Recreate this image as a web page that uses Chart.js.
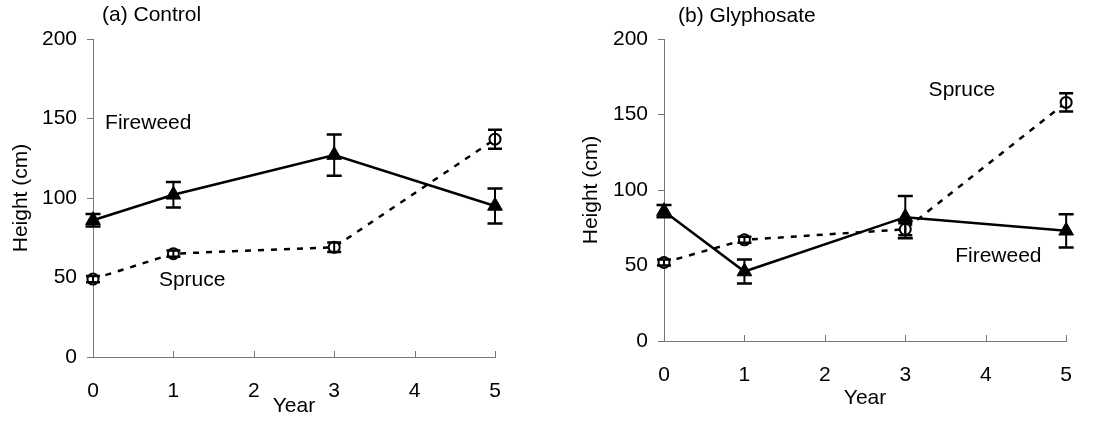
<!DOCTYPE html>
<html>
<head>
<meta charset="utf-8">
<script src="https://cdn.jsdelivr.net/npm/chart.js@4.4.1/dist/chart.umd.min.js"></script>
<style>
  html, body { margin: 0; padding: 0; background: #fff; }
  #wrap { position: relative; width: 1094px; height: 423px; }
  canvas { position: absolute; top: 0; }
  #chartA { left: 0; }
  #chartB { left: 547px; }
</style>
</head>
<body>
<div id="wrap">
  <canvas id="chartA" width="547" height="423"></canvas>
  <canvas id="chartB" width="547" height="423"></canvas>
</div>
<script>
// sampling years and axis ticks
const years = [0, 1, 3, 5];
const xTicks = [0, 1, 2, 3, 4, 5];
const yTicks = [0, 50, 100, 150, 200];

// (a) Control
const fireweedControl = [86, 102, 127, 95];
const fireweedControlErr = [4, 8, 13, 11];
const spruceControl = [49, 65, 69, 137];
const spruceControlErr = [2, 2, 3, 6];

// (b) Glyphosate
const fireweedGly = [86, 46, 82, 73];
const fireweedGlyErr = [4, 8, 14, 11];
const spruceGly = [52, 67, 74, 158];
const spruceGlyErr = [2, 2, 4, 6];

const FONT = '"Liberation Sans", Arial, Helvetica, sans-serif';
const AXIS_COLOR = '#777';

// Draws error bars, inward x ticks and the in-plot text labels
const panelPlugin = {
    id: 'panelPlugin',
    afterDatasetsDraw(chart) {
        const ctx = chart.ctx;
        const xs = chart.scales.x;
        const ys = chart.scales.y;
        ctx.save();
        ctx.strokeStyle = '#000';
        chart.data.datasets.forEach(ds => {
            ds.data.forEach((p, i) => {
                const e = ds.errors[i];
                const x = xs.getPixelForValue(p.x);
                const yTop = ys.getPixelForValue(p.y + e);
                const yBot = ys.getPixelForValue(p.y - e);
                ctx.lineWidth = 2;
                ctx.beginPath();
                ctx.moveTo(x, yTop);
                ctx.lineTo(x, yBot);
                ctx.stroke();
                ctx.lineWidth = 2.5;
                ctx.beginPath();
                ctx.moveTo(x - ds.capHalf, yTop);
                ctx.lineTo(x + ds.capHalf, yTop);
                ctx.moveTo(x - ds.capHalf, yBot);
                ctx.lineTo(x + ds.capHalf, yBot);
                ctx.stroke();
            });
        });
        ctx.restore();
    },
    afterDraw(chart, args, opts) {
        const ctx = chart.ctx;
        const xs = chart.scales.x;
        const ys = chart.scales.y;
        const area = chart.chartArea;
        ctx.save();
        // tick marks pointing up into the plot
        ctx.strokeStyle = AXIS_COLOR;
        ctx.lineWidth = 1;
        xs.ticks.forEach(t => {
            const x = Math.round(xs.getPixelForValue(t.value)) + 0.5;
            ctx.beginPath();
            ctx.moveTo(x, area.bottom);
            ctx.lineTo(x, area.bottom - 6);
            ctx.stroke();
        });
        // labels
        ctx.fillStyle = '#000';
        ctx.font = '21px ' + FONT;
        ctx.textAlign = 'left';
        ctx.textBaseline = 'middle';
        opts.labels.forEach(l => {
            ctx.fillText(l.text, xs.getPixelForValue(l.x), ys.getPixelForValue(l.y));
        });
        ctx.fillText(opts.title, area.left + opts.titleDx, opts.titleY);
        ctx.restore();
    }
};

function makeChart(id, cfg) {
    return new Chart(document.getElementById(id), {
        type: 'line',
        data: {
            datasets: [
                {
                    label: 'Fireweed',
                    data: years.map((yr, i) => ({ x: yr, y: cfg.fireweed[i] })),
                    errors: cfg.fireweedErr,
                    capHalf: 7.5,
                    borderColor: '#000',
                    borderWidth: 2.5,
                    pointStyle: 'triangle',
                    pointRadius: 8.5,
                    pointBackgroundColor: '#000',
                    pointBorderColor: '#000',
                    pointBorderWidth: 1,
                    tension: 0,
                    clip: false,
                    order: 1
                },
                {
                    label: 'Spruce',
                    data: years.map((yr, i) => ({ x: yr, y: cfg.spruce[i] })),
                    errors: cfg.spruceErr,
                    capHalf: 7,
                    borderColor: '#000',
                    borderWidth: 2.5,
                    borderDash: [6, 7],
                    pointStyle: 'circle',
                    pointRadius: 5.5,
                    pointBackgroundColor: '#fff',
                    pointBorderColor: '#000',
                    pointBorderWidth: 2,
                    tension: 0,
                    clip: false,
                    order: 2
                }
            ]
        },
        options: {
            responsive: false,
            animation: false,
            events: [],
            layout: {
                padding: { top: 39, left: 0, right: cfg.padRight, bottom: 0 }
            },
            plugins: {
                legend: { display: false },
                tooltip: { enabled: false },
                panelPlugin: { labels: cfg.labels, title: cfg.title, titleDx: cfg.titleDx, titleY: cfg.titleY }
            },
            scales: {
                x: {
                    type: 'linear',
                    min: 0,
                    max: 5,
                    afterBuildTicks: s => { s.ticks = xTicks.map(v => ({ value: v })); },
                    afterFit: s => { s.height = cfg.xHeight; },
                    ticks: {
                        color: '#000',
                        padding: 22,
                        maxRotation: 0,
                        font: { family: FONT, size: 21 }
                    },
                    grid: { drawOnChartArea: false, drawTicks: false },
                    border: { display: true, color: AXIS_COLOR, width: 1 },
                    title: {
                        display: true,
                        text: 'Year',
                        color: '#000',
                        font: { family: FONT, size: 21 },
                        padding: { top: 0, bottom: cfg.xTitlePad }
                    }
                },
                y: {
                    min: 0,
                    max: 200,
                    afterBuildTicks: s => { s.ticks = yTicks.map(v => ({ value: v })); },
                    afterFit: s => { s.width = cfg.yWidth; },
                    ticks: {
                        color: '#000',
                        padding: 10,
                        font: { family: FONT, size: 21 }
                    },
                    grid: { drawOnChartArea: false, drawTicks: true, tickLength: 6, color: AXIS_COLOR },
                    border: { display: true, color: AXIS_COLOR, width: 1 },
                    title: {
                        display: true,
                        text: 'Height (cm)',
                        color: '#000',
                        font: { family: FONT, size: 21 },
                        padding: { top: cfg.yTitlePad, bottom: 0 }
                    }
                }
            }
        },
        plugins: [panelPlugin]
    });
}

makeChart('chartA', {
    fireweed: fireweedControl,
    fireweedErr: fireweedControlErr,
    spruce: spruceControl,
    spruceErr: spruceControlErr,
    title: '(a) Control',
    titleDx: 9,
    titleY: 15,
    labels: [
        { text: 'Fireweed', x: 0.15, y: 147 },
        { text: 'Spruce', x: 0.82, y: 48 }
    ],
    padRight: 52,
    xHeight: 66,
    yWidth: 93,
    xTitlePad: 4,
    yTitlePad: 9
});

makeChart('chartB', {
    fireweed: fireweedGly,
    fireweedErr: fireweedGlyErr,
    spruce: spruceGly,
    spruceErr: spruceGlyErr,
    title: '(b) Glyphosate',
    titleDx: 14,
    titleY: 16,
    labels: [
        { text: 'Spruce', x: 3.29, y: 166 },
        { text: 'Fireweed', x: 3.62, y: 56 }
    ],
    padRight: 22,
    xHeight: 82,
    yWidth: 117,
    xTitlePad: 12,
    yTitlePad: 32
});
</script>
</body>
</html>
